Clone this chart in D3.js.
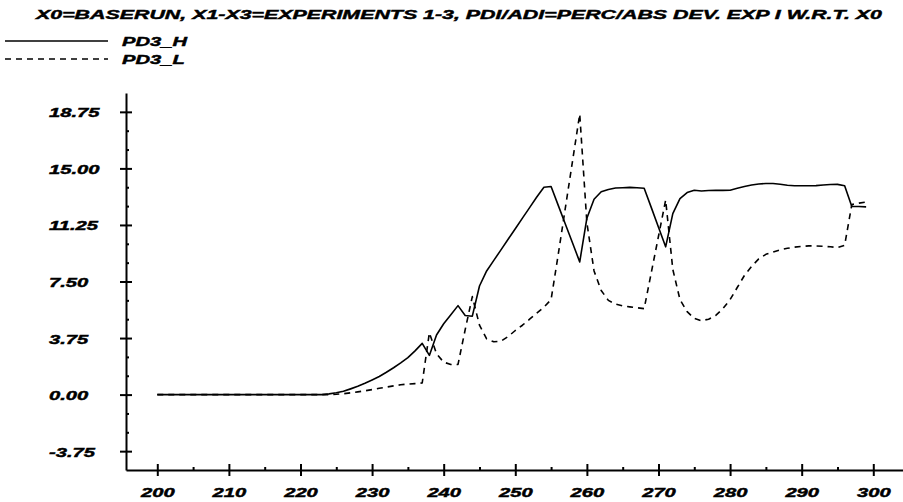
<!DOCTYPE html>
<html>
<head>
<meta charset="utf-8">
<script src="https://cdn.jsdelivr.net/npm/d3@7/dist/d3.min.js"></script>
<style>
  html, body { margin: 0; padding: 0; background: #fff; }
  text { font-family: "Liberation Sans", Arial, sans-serif; font-weight: bold; font-style: italic; fill: #000; stroke: #000; stroke-width: 0.45px; }
</style>
</head>
<body>
<svg id="chart" width="903" height="502"></svg>
<script>
const titleText = "X0=BASERUN, X1-X3=EXPERIMENTS 1-3, PDI/ADI=PERC/ABS DEV. EXP I W.R.T. X0";
const seriesNames = ["PD3_H", "PD3_L"];
const years = [200,201,202,203,204,205,206,207,208,209,210,211,212,213,214,215,216,217,218,219,
  220,221,222,223,224,225,226,227,228,229,230,231,232,233,234,235,236,237,238,239,
  240,241,242,243,244,245,246,247,248,249,250,251,252,253,254,255,256,257,258,259,
  260,261,262,263,264,265,266,267,268,269,270,271,272,273,274,275,276,277,278,279,
  280,281,282,283,284,285,286,287,288,289,290,291,292,293,294,295,296,297,298,299];
const pd3H = [0,0,0,0,0,0,0,0,0,0,0,0,0,0,0,0,0,0,0,0,
  0,0,0,0,0.05,0.12,0.22,0.38,0.55,0.75,0.97,1.2,1.48,1.78,2.1,2.45,2.9,3.4,2.6,3.95,
  4.7,5.3,5.9,5.25,5.2,7.2,8.2,8.9,9.6,10.3,11.0,11.7,12.4,13.1,13.75,13.8,12.55,11.3,10.05,8.8,
  11.7,12.95,13.45,13.6,13.7,13.72,13.74,13.72,13.68,12.4,11.1,9.8,12.0,13.0,13.4,13.55,13.5,13.53,13.54,13.54,
  13.55,13.68,13.8,13.9,13.97,14.0,14.0,13.95,13.88,13.85,13.85,13.85,13.86,13.9,13.93,13.94,13.85,12.47,12.47,12.45];
const pd3L = [0,0,0,0,0,0,0,0,0,0,0,0,0,0,0,0,0,0,0,0,
  0,0,0,0,0,0.02,0.06,0.12,0.18,0.25,0.33,0.42,0.5,0.58,0.65,0.7,0.73,0.77,4.1,2.7,
  2.15,2.0,2.0,4.3,6.5,4.6,3.7,3.5,3.55,3.85,4.25,4.6,5.0,5.4,5.8,6.3,9.3,12.4,15.5,18.6,
  11.4,8.2,6.9,6.25,6.0,5.88,5.82,5.76,5.7,8.1,10.5,12.9,8.3,6.3,5.5,5.05,4.9,5.0,5.25,5.7,
  6.3,7.1,7.9,8.5,9.0,9.3,9.45,9.6,9.7,9.78,9.83,9.86,9.86,9.84,9.8,9.75,9.9,12.6,12.7,12.77];
const yTickValues = [-3.75, 0, 3.75, 7.5, 11.25, 15, 18.75];
const yTickLabels = ["-3.75", "0.00", "3.75", "7.50", "11.25", "15.00", "18.75"];
const yMinorValues = [-2.5, -1.25, 1.25, 2.5, 5, 6.25, 8.75, 10, 12.5, 13.75, 16.25, 17.5];
const xTickValues = [200, 210, 220, 230, 240, 250, 260, 270, 280, 290, 300];
const xMinorValues = [205, 215, 225, 235, 245, 255, 265, 275, 285, 295];

const svg = d3.select("#chart");
const x = d3.scaleLinear().domain([195.63, 304.15]).range([126, 903]);
const y = d3.scaleLinear().domain([-5, 20]).range([470, 93]);
const STRETCH = 1.55;

function stretch(sel, factor) {
  sel.each(function() {
    const w = this.getComputedTextLength();
    d3.select(this).attr("textLength", w * factor).attr("lengthAdjust", "spacingAndGlyphs");
  });
}

// Title
svg.append("text").attr("x", 36).attr("y", 19).attr("font-size", 13.5)
  .text(titleText)
  .attr("textLength", 846).attr("lengthAdjust", "spacingAndGlyphs");

// Legend
const legY = [41, 59];
const dashes = [null, "6,5"];
seriesNames.forEach((n, i) => {
  svg.append("line").attr("x1", 5).attr("x2", 108).attr("y1", legY[i]).attr("y2", legY[i])
    .attr("stroke", "#000").attr("stroke-width", 1.6).attr("stroke-dasharray", dashes[i]);
  const t = svg.append("text").attr("x", 122).attr("y", legY[i] + 5).attr("font-size", 13).text(n);
  stretch(t, STRETCH);
});

// Y axis
const yAxis = d3.axisLeft(y).tickValues(yTickValues).tickSize(6).tickSizeOuter(0).tickFormat((d, i) => yTickLabels[i]);
const gy = svg.append("g").attr("transform", "translate(126,0)").call(yAxis);
gy.select(".domain").attr("stroke-width", 2);
gy.selectAll(".tick line").attr("x1", 6).attr("stroke-width", 2);
gy.selectAll(".tick text").attr("x", -77).attr("dy", null).attr("y", 5)
  .attr("text-anchor", "start").attr("font-size", 13).attr("font-family", null);
stretch(gy.selectAll(".tick text"), STRETCH);
const yMinor = d3.axisRight(y).tickValues(yMinorValues).tickSize(3).tickSizeOuter(0).tickFormat("");
const gym = svg.append("g").attr("transform", "translate(126,0)").call(yMinor);
gym.select(".domain").remove();
gym.selectAll(".tick line").attr("stroke-width", 2);

// X axis
const xAxis = d3.axisBottom(x).tickValues(xTickValues).tickSize(6).tickSizeOuter(0);
const gx = svg.append("g").attr("transform", "translate(0,470)").call(xAxis);
gx.select(".domain").attr("stroke-width", 2);
gx.selectAll(".tick line").attr("y1", -6).attr("stroke-width", 2);
gx.selectAll(".tick text").attr("y", 27).attr("dy", null).attr("font-size", 13).attr("font-family", null);
stretch(gx.selectAll(".tick text"), STRETCH);
const xMinor = d3.axisTop(x).tickValues(xMinorValues).tickSize(3).tickSizeOuter(0).tickFormat("");
const gxm = svg.append("g").attr("transform", "translate(0,470)").call(xMinor);
gxm.select(".domain").remove();
gxm.selectAll(".tick line").attr("stroke-width", 2);

// Lines
const line = d3.line().x((d, i) => x(years[i])).y(d => y(d));
[pd3H, pd3L].forEach((s, i) => {
  svg.append("path").datum(s).attr("d", line).attr("fill", "none")
    .attr("stroke", "#000").attr("stroke-width", 1.6).attr("stroke-dasharray", dashes[i])
    .attr("stroke-linejoin", "round");
});
</script>
</body>
</html>
